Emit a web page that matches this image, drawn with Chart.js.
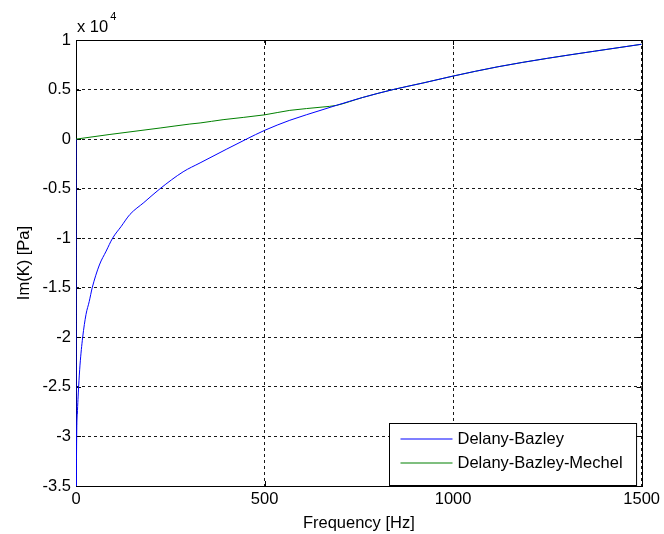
<!DOCTYPE html>
<html><head><meta charset="utf-8">
<script src="https://cdn.jsdelivr.net/npm/chart.js@4.4.1/dist/chart.umd.min.js"></script>
<style>html,body{margin:0;padding:0;background:#fff;}canvas{display:block;}</style>
</head><body>
<canvas id="c" width="664" height="534"></canvas>
<script>
// ---- data (values in Pa) ----
const seriesNames = ['Delany-Bazley', 'Delany-Bazley-Mechel'];
const seriesColors = ['#0000ff', '#008000'];
const freqDB = [0, 0.5, 1, 1.8, 3.5, 7, 10.6, 17.7, 26.5, 35, 43, 62, 80, 97, 120, 143, 180, 223, 284, 329, 400, 452, 500, 567, 655, 690, 760, 841, 920, 1000, 1119, 1250, 1375, 1500];
const imKDB = [0, -40000, -34500, -30000, -27800, -25000, -22800, -20000, -17700, -16400, -15000, -12700, -11300, -10000, -8800, -7600, -6400, -5000, -3300, -2400, -1000, 0, 880, 1900, 2980, 3400, 4200, 5000, 5660, 6360, 7300, 8150, 8870, 9570];
const freqDBM = [0, 90, 223, 302, 329, 390, 500, 567, 655, 690, 760, 841, 920, 1000, 1119, 1250, 1375, 1500];
const imKDBM = [0, 470, 1120, 1520, 1630, 1960, 2450, 2900, 3240, 3400, 4200, 5000, 5660, 6360, 7300, 8150, 8870, 9570];
const xTicks = [0, 500, 1000, 1500];
const yTicks = [-35000, -30000, -25000, -20000, -15000, -10000, -5000, 0, 5000, 10000];
const yScaleFactor = 10000;
const yExponentBase = 'x 10';
const yExponent = '4';
const xTitle = 'Frequency [Hz]';
const yTitle = 'Im(K) [Pa]';

const FONT = "'Liberation Sans', Arial, sans-serif";
const FS = 16.5;

const toXY = (xs, ys) => xs.map((x, i) => ({x: x, y: ys[i]}));

const boxPlugin = {
  id: 'boxPlugin',
  beforeDatasetsDraw(chart) {
    const {ctx, chartArea: a, scales} = chart;
    ctx.save();
    ctx.strokeStyle = '#000';
    ctx.lineWidth = 1;
    const tl = 5;
    ctx.beginPath();
    xTicks.forEach(v => {
      const px = Math.round(scales.x.getPixelForValue(v)) + 0.5;
      ctx.moveTo(px, a.bottom); ctx.lineTo(px, a.bottom - tl);
      ctx.moveTo(px, a.top); ctx.lineTo(px, a.top + tl);
    });
    yTicks.forEach(v => {
      const py = Math.round(scales.y.getPixelForValue(v)) + 0.5;
      ctx.moveTo(a.left, py); ctx.lineTo(a.left + tl, py);
      ctx.moveTo(a.right, py); ctx.lineTo(a.right - tl, py);
    });
    ctx.stroke();
    ctx.strokeRect(Math.round(a.left) + 0.5, Math.round(a.top) + 0.5, Math.round(a.right - a.left), Math.round(a.bottom - a.top));
    ctx.fillStyle = '#000';
    ctx.textBaseline = 'alphabetic';
    ctx.textAlign = 'left';
    ctx.font = FS + 'px ' + FONT;
    const ex = a.left + 1, ey = a.top - 8;
    ctx.fillText(yExponentBase, ex, ey);
    const w = ctx.measureText(yExponentBase).width;
    ctx.font = '11px ' + FONT;
    ctx.fillText(yExponent, ex + w + 2, ey - 12);
    ctx.restore();
  },
  afterDatasetsDraw(chart) {
    const {ctx, chartArea: a} = chart;
    ctx.save();
    ctx.font = FS + 'px ' + FONT;
    let tw = 0;
    chart.data.datasets.forEach(d => { tw = Math.max(tw, ctx.measureText(d.label).width); });
    const bw = 68 + tw + 14, bh = 62;
    const bx = Math.round(a.right - 6 - bw) + 0.5, by = Math.round(a.bottom - 1 - bh) + 0.5;
    ctx.fillStyle = '#fff';
    ctx.fillRect(bx, by, bw, bh);
    ctx.strokeStyle = '#000';
    ctx.lineWidth = 1;
    ctx.strokeRect(bx, by, bw, bh);
    chart.data.datasets.forEach((d, i) => {
      const ry = Math.round(by + 15 + i * 24);
      ctx.strokeStyle = seriesColors[i];
      ctx.lineWidth = 1.2;
      ctx.beginPath();
      ctx.moveTo(bx + 11, ry);
      ctx.lineTo(bx + 63, ry);
      ctx.stroke();
      ctx.fillStyle = '#000';
      ctx.textAlign = 'left';
      ctx.textBaseline = 'middle';
      ctx.fillText(d.label, bx + 68, ry);
    });
    ctx.restore();
  }
};

new Chart(document.getElementById('c'), {
  type: 'line',
  data: {
    datasets: [
      {label: seriesNames[0], data: toXY(freqDB, imKDB), borderColor: seriesColors[0], borderWidth: 1, pointRadius: 0, cubicInterpolationMode: 'monotone', fill: false},
      {label: seriesNames[1], data: toXY(freqDBM, imKDBM), borderColor: seriesColors[1], borderWidth: 1, pointRadius: 0, cubicInterpolationMode: 'monotone', fill: false}
    ]
  },
  options: {
    responsive: false,
    animation: false,
    devicePixelRatio: 1,
    layout: {padding: {top: 40, right: 22, left: 0, bottom: 0}},
    plugins: {legend: {display: false}, tooltip: {enabled: false}},
    scales: {
      x: {
        type: 'linear', min: 0, max: 1500,
        afterBuildTicks: s => { s.ticks = xTicks.map(v => ({value: v})); },
        afterFit: s => { s.height = 48; },
        grid: {color: 'rgba(0,0,0,0.9)', lineWidth: 1, drawTicks: false},
        border: {display: false, dash: [3, 3]},
        ticks: {color: '#000', padding: 4, maxRotation: 0, callback: v => String(v), font: {family: FONT, size: FS}},
        title: {display: true, text: xTitle, color: '#000', padding: {top: 0, bottom: 1}, font: {family: FONT, size: FS}}
      },
      y: {
        type: 'linear', min: -35000, max: 10000,
        afterBuildTicks: s => { s.ticks = yTicks.map(v => ({value: v})); },
        afterFit: s => { s.width = 76; },
        grid: {color: 'rgba(0,0,0,0.9)', lineWidth: 1, drawTicks: false},
        border: {display: false, dash: [3, 3]},
        ticks: {color: '#000', padding: 5, callback: v => String(v / yScaleFactor), font: {family: FONT, size: FS}},
        title: {display: true, text: yTitle, color: '#000', padding: {top: 15, bottom: 0}, font: {family: FONT, size: FS}}
      }
    }
  },
  plugins: [boxPlugin]
});
</script>
</body></html>
